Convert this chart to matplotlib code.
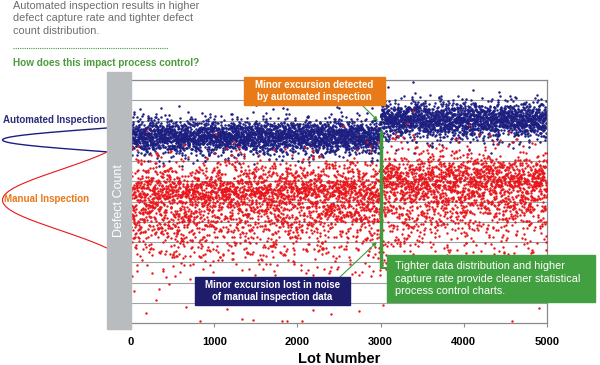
import numpy as np
import matplotlib.pyplot as plt
from matplotlib.patches import Rectangle
from matplotlib.lines import Line2D

plt.rcParams['font.family'] = ['Liberation Sans', 'DejaVu Sans']

# Lots and the excursion point
lots = np.arange(1, 5001)
split_lot = 3000
x_ticks = [0, 1000, 2000, 3000, 4000, 5000]
y_grid = [0, 1, 2, 3, 4, 5, 6, 7, 8, 9, 10, 11, 12]

# Band levels (defect count units = grid rows), before / after lot 3000
auto_center = [9.2, 10.05]
auto_spread = [0.40, 0.43]
manual_center = [6.2, 6.75]
manual_spread_up = [0.8, 0.8]
manual_spread_down = [1.45, 1.45]

# Distribution curves drawn left of the axis: automated, manual
curve_mu = [9.04, 6.07]
curve_sigma = [0.59, 1.48]
curve_half_width = [0.59, 2.37]

# Colours
NAVY = '#1c1f80'
RED = '#e8161b'
GREEN = '#3f9c3c'
ORANGE = '#e87a18'
GRAY_BAR = '#b9bcbf'
GRID = '#a3a3a3'

W, H = 600, 365


def fx(px):
    return px / W


def fy(py):
    return 1 - py / H


# Per-lot scatter built from the band levels above (the cloud itself is noise)
rng = np.random.default_rng(11)
idx = (lots > split_lot).astype(int)
auto = np.array(auto_center)[idx] + np.array(auto_spread)[idx] * rng.standard_t(20, lots.size)
z = rng.standard_t(10, lots.size)
manual = np.array(manual_center)[idx] + np.where(
    z > 0, np.array(manual_spread_up)[idx], np.array(manual_spread_down)[idx]) * z
auto = np.clip(auto, 0.1, 11.9)
manual = np.clip(manual, 0.1, 11.9)

fig = plt.figure(figsize=(6, 3.65), dpi=100)
ax = fig.add_axes([fx(131), fy(323), fx(547) - fx(131), fy(80) - fy(323)])

for g in y_grid[1:]:
    ax.axhline(g, color=GRID, lw=0.8, zorder=1)

ax.scatter(lots, auto, s=3.2, color=NAVY, linewidths=0, zorder=2)
ax.scatter(lots, manual, s=3.0, color=RED, linewidths=0, zorder=3)

ax.set_xlim(0, 5000)
ax.set_ylim(0, 12)
ax.set_yticks([])
ax.set_xticks(x_ticks)
ax.set_xticklabels([str(t) for t in x_ticks], fontweight='bold', fontsize=8)
ax.tick_params(axis='x', length=3, width=0.8, color='#8a8a8a', pad=7)
for side in ['top', 'right', 'bottom']:
    ax.spines[side].set_color('#8a8a8a')
    ax.spines[side].set_linewidth(0.9)
ax.spines['left'].set_visible(False)
ax.set_xlabel('Lot Number', fontweight='bold', fontsize=10.5, labelpad=4)

# excursion marker at lot 3000
ax.plot([split_lot, split_lot], [2.72, 9.55], color=GREEN, lw=2.5, zorder=4,
        solid_capstyle='butt')
ax.plot([split_lot, split_lot + 80], [2.72, 2.72], color=GREEN, lw=1.5, zorder=4)

ax.annotate('', xy=(2968, 9.98), xytext=(362, H - 105), textcoords='figure pixels',
            arrowprops=dict(arrowstyle='-|>', color=GREEN, lw=0.8, mutation_scale=6,
                            shrinkA=0, shrinkB=0), annotation_clip=False, zorder=6)
ax.annotate('', xy=(2955, 4.0), xytext=(340, H - 277), textcoords='figure pixels',
            arrowprops=dict(arrowstyle='-|>', color=GREEN, lw=0.8, mutation_scale=6,
                            shrinkA=0, shrinkB=0), annotation_clip=False, zorder=6)

# distribution curves on the left
axc = fig.add_axes([0, fy(323), fx(131), fy(80) - fy(323)])
axc.set_xlim(0, 131)
axc.set_ylim(0, 12)
axc.axis('off')
for mu, sig, hw, col, lw in zip(curve_mu, curve_sigma, curve_half_width, [NAVY, RED], [1.0, 0.8]):
    depth = (107 - 2.5) / (1 - np.exp(-hw ** 2 / (2 * sig ** 2)))
    yy = np.linspace(mu - hw, mu + hw, 200)
    xx = 2.5 + depth - depth * np.exp(-(yy - mu) ** 2 / (2 * sig ** 2))
    axc.plot(xx, yy, color=col, lw=lw)

fig.text(fx(54), fy(120), 'Automated Inspection', color='#2b2d7a', fontsize=7,
         fontweight='bold', ha='center', va='center')
fig.text(fx(4), fy(199), 'Manual Inspection', color=ORANGE, fontsize=7,
         fontweight='bold', ha='left', va='center')

# grey y-axis bar
fig.add_artist(Rectangle((fx(107), fy(329)), fx(24), fy(72) - fy(329),
                         transform=fig.transFigure, color=GRAY_BAR, zorder=3))
fig.text(fx(119), fy(201), 'Defect Count', color='white', fontsize=9, rotation=90,
         ha='center', va='center', zorder=4)

# heading text
fig.text(fx(13), fy(1), 'Automated inspection results in higher\ndefect capture rate and tighter defect\ncount distribution.',
         color='#6d6d6d', fontsize=7.8, va='top', ha='left', linespacing=1.3)
fig.add_artist(Line2D([fx(13), fx(168)], [fy(48), fy(48)], transform=fig.transFigure,
                      color=GREEN, lw=0.8, linestyle=(0, (1, 1))))
fig.text(fx(13), fy(63), 'How does this impact process control?', color='#4c9a3c',
         fontsize=7.2, fontweight='bold', va='center', ha='left')

# call-out boxes
boxes = [
    (244, 77, 385, 105, ORANGE, 'Minor excursion detected\nby automated inspection', 'bold', 'center'),
    (195, 277, 350, 305, '#1f1c6c', 'Minor excursion lost in noise\nof manual inspection data', 'bold', 'center'),
    (387, 255, 595, 302, '#43a040', 'Tighter data distribution and higher\ncapture rate provide cleaner statistical\nprocess control charts.', 'normal', 'left'),
]
for x0, y0, x1, y1, col, txt, wt, ha in boxes:
    fig.add_artist(Rectangle((fx(x0), fy(y1)), fx(x1 - x0), fy(y0) - fy(y1),
                             transform=fig.transFigure, color=col, zorder=5))
    tx = fx((x0 + x1) / 2) if ha == 'center' else fx(x0 + 8)
    fig.text(tx, fy((y0 + y1) / 2), txt, color='white', fontsize=7 if wt == 'bold' else 7.8,
             fontweight=wt, ha=ha, va='center', linespacing=1.3, zorder=6)

fig.savefig('out.png', dpi=100)
